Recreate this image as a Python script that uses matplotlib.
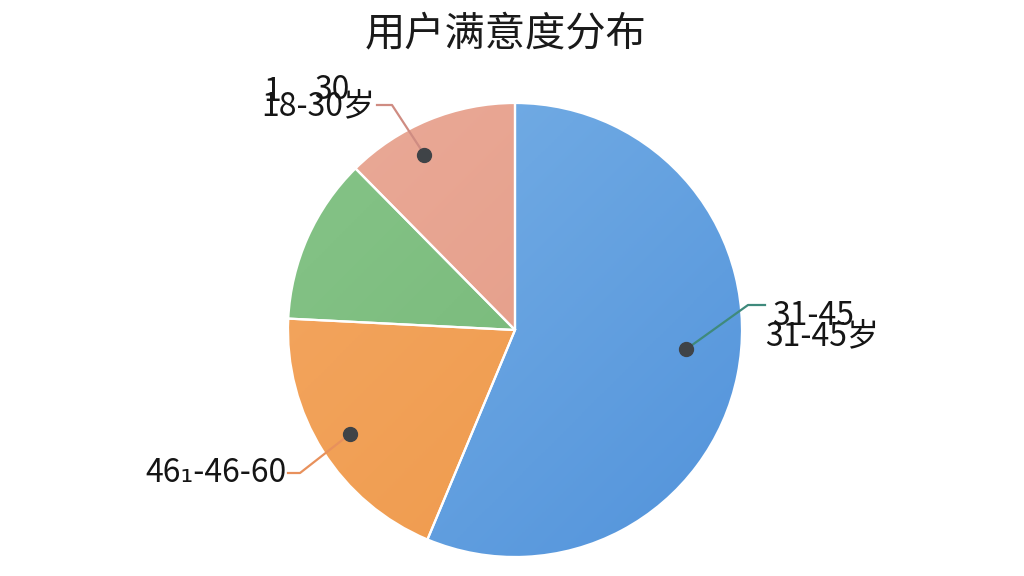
import numpy as np
import matplotlib.pyplot as plt
from matplotlib.colors import LinearSegmentedColormap

plt.rcParams['font.family'] = ['Noto Sans CJK SC', 'DejaVu Sans']

# 数据（按顺时针，从12点方向开始）
labels = ['31-45岁', '46-60', '', '18-30岁']
values = [56.3, 19.5, 11.8, 12.4]
light_colors = ['#79B1E6', '#F4A762', '#86C488', '#EAAA98']
dark_colors = ['#5293DB', '#EE9848', '#72B574', '#E39882']
line_colors = ['#3F8A7C', '#E8915C', '#72B574', '#CF8C82']
title = '用户满意度分布'

# 画布 1024x576，饼心 (515,330)，半径 227 像素
W, H = 1024, 576
CX, CY, R = 515, 330, 227


def px(x, y):
    return (x - CX) / R, (CY - y) / R


fig = plt.figure(figsize=(W / 100, H / 100), dpi=100)
fig.patch.set_facecolor('white')
ax = fig.add_axes([0, 0, 1, 1])

wedges, _ = ax.pie(values, colors=dark_colors, startangle=90, counterclock=False,
                   wedgeprops=dict(edgecolor='white', linewidth=1.6))

# 渐变填充
n = 300
gx, gy = np.meshgrid(np.linspace(0, 1, n), np.linspace(0, 1, n))
grad = (gx + gy) / 2
for w, c1, c2 in zip(wedges, light_colors, dark_colors):
    cmap = LinearSegmentedColormap.from_list('g', [c1, c2])
    im = ax.imshow(grad, cmap=cmap, extent=(-1, 1, -1, 1), origin='upper',
                   zorder=1, interpolation='bilinear')
    im.set_clip_path(w)
    w.set_facecolor('none')
    w.set_zorder(2)

# 标注：点 -> 折线 -> 文字
dot_shift = [5, 0, 0, 5]   # 相对扇区中线的角度偏移
dot_r = [0.76, 0.86, 0.86, 0.87]
elbows = [px(748, 305), px(300, 473), None, px(392, 105)]
ends = [px(765, 305), px(288, 473), None, px(377, 105)]

for i, w in enumerate(wedges):
    if not labels[i]:
        continue
    mid = np.deg2rad((w.theta1 + w.theta2) / 2 + dot_shift[i])
    dx, dy = dot_r[i] * np.cos(mid), dot_r[i] * np.sin(mid)
    ex, ey = elbows[i]
    fx, fy = ends[i]
    ax.plot([dx, ex, fx], [dy, ey, fy], color=line_colors[i], lw=1.6,
            zorder=3, clip_on=False)
    ax.plot(dx, dy, 'o', color='#3F4347', ms=10, zorder=4, clip_on=False)

fs = 23
txt = dict(fontsize=fs, color='#151515', va='center', zorder=5)
# 31-45岁（重影）
ax.text(*px(772, 316), '31-45', ha='left', **txt)
ax.text(*px(765, 336), labels[0], ha='left', **txt)
# 46-60
ax.text(*px(287, 473), '46\u2081-' + labels[1], ha='right', **txt)
# 18-30岁（重影）
ax.text(*px(263, 92), '1', ha='left', **txt)
ax.text(*px(314, 90), '30', ha='left', **txt)
ax.text(*px(261, 106), labels[3], ha='left', **txt)

ax.text(*px(506, 34), title, ha='center', va='center', fontsize=29,
        color='#1a1a1a')

ax.set_xlim(-CX / R, (W - CX) / R)
ax.set_ylim(-(H - CY) / R, CY / R)
ax.set_aspect('auto')
ax.axis('off')

fig.savefig('out.png', dpi=100, facecolor='white')
